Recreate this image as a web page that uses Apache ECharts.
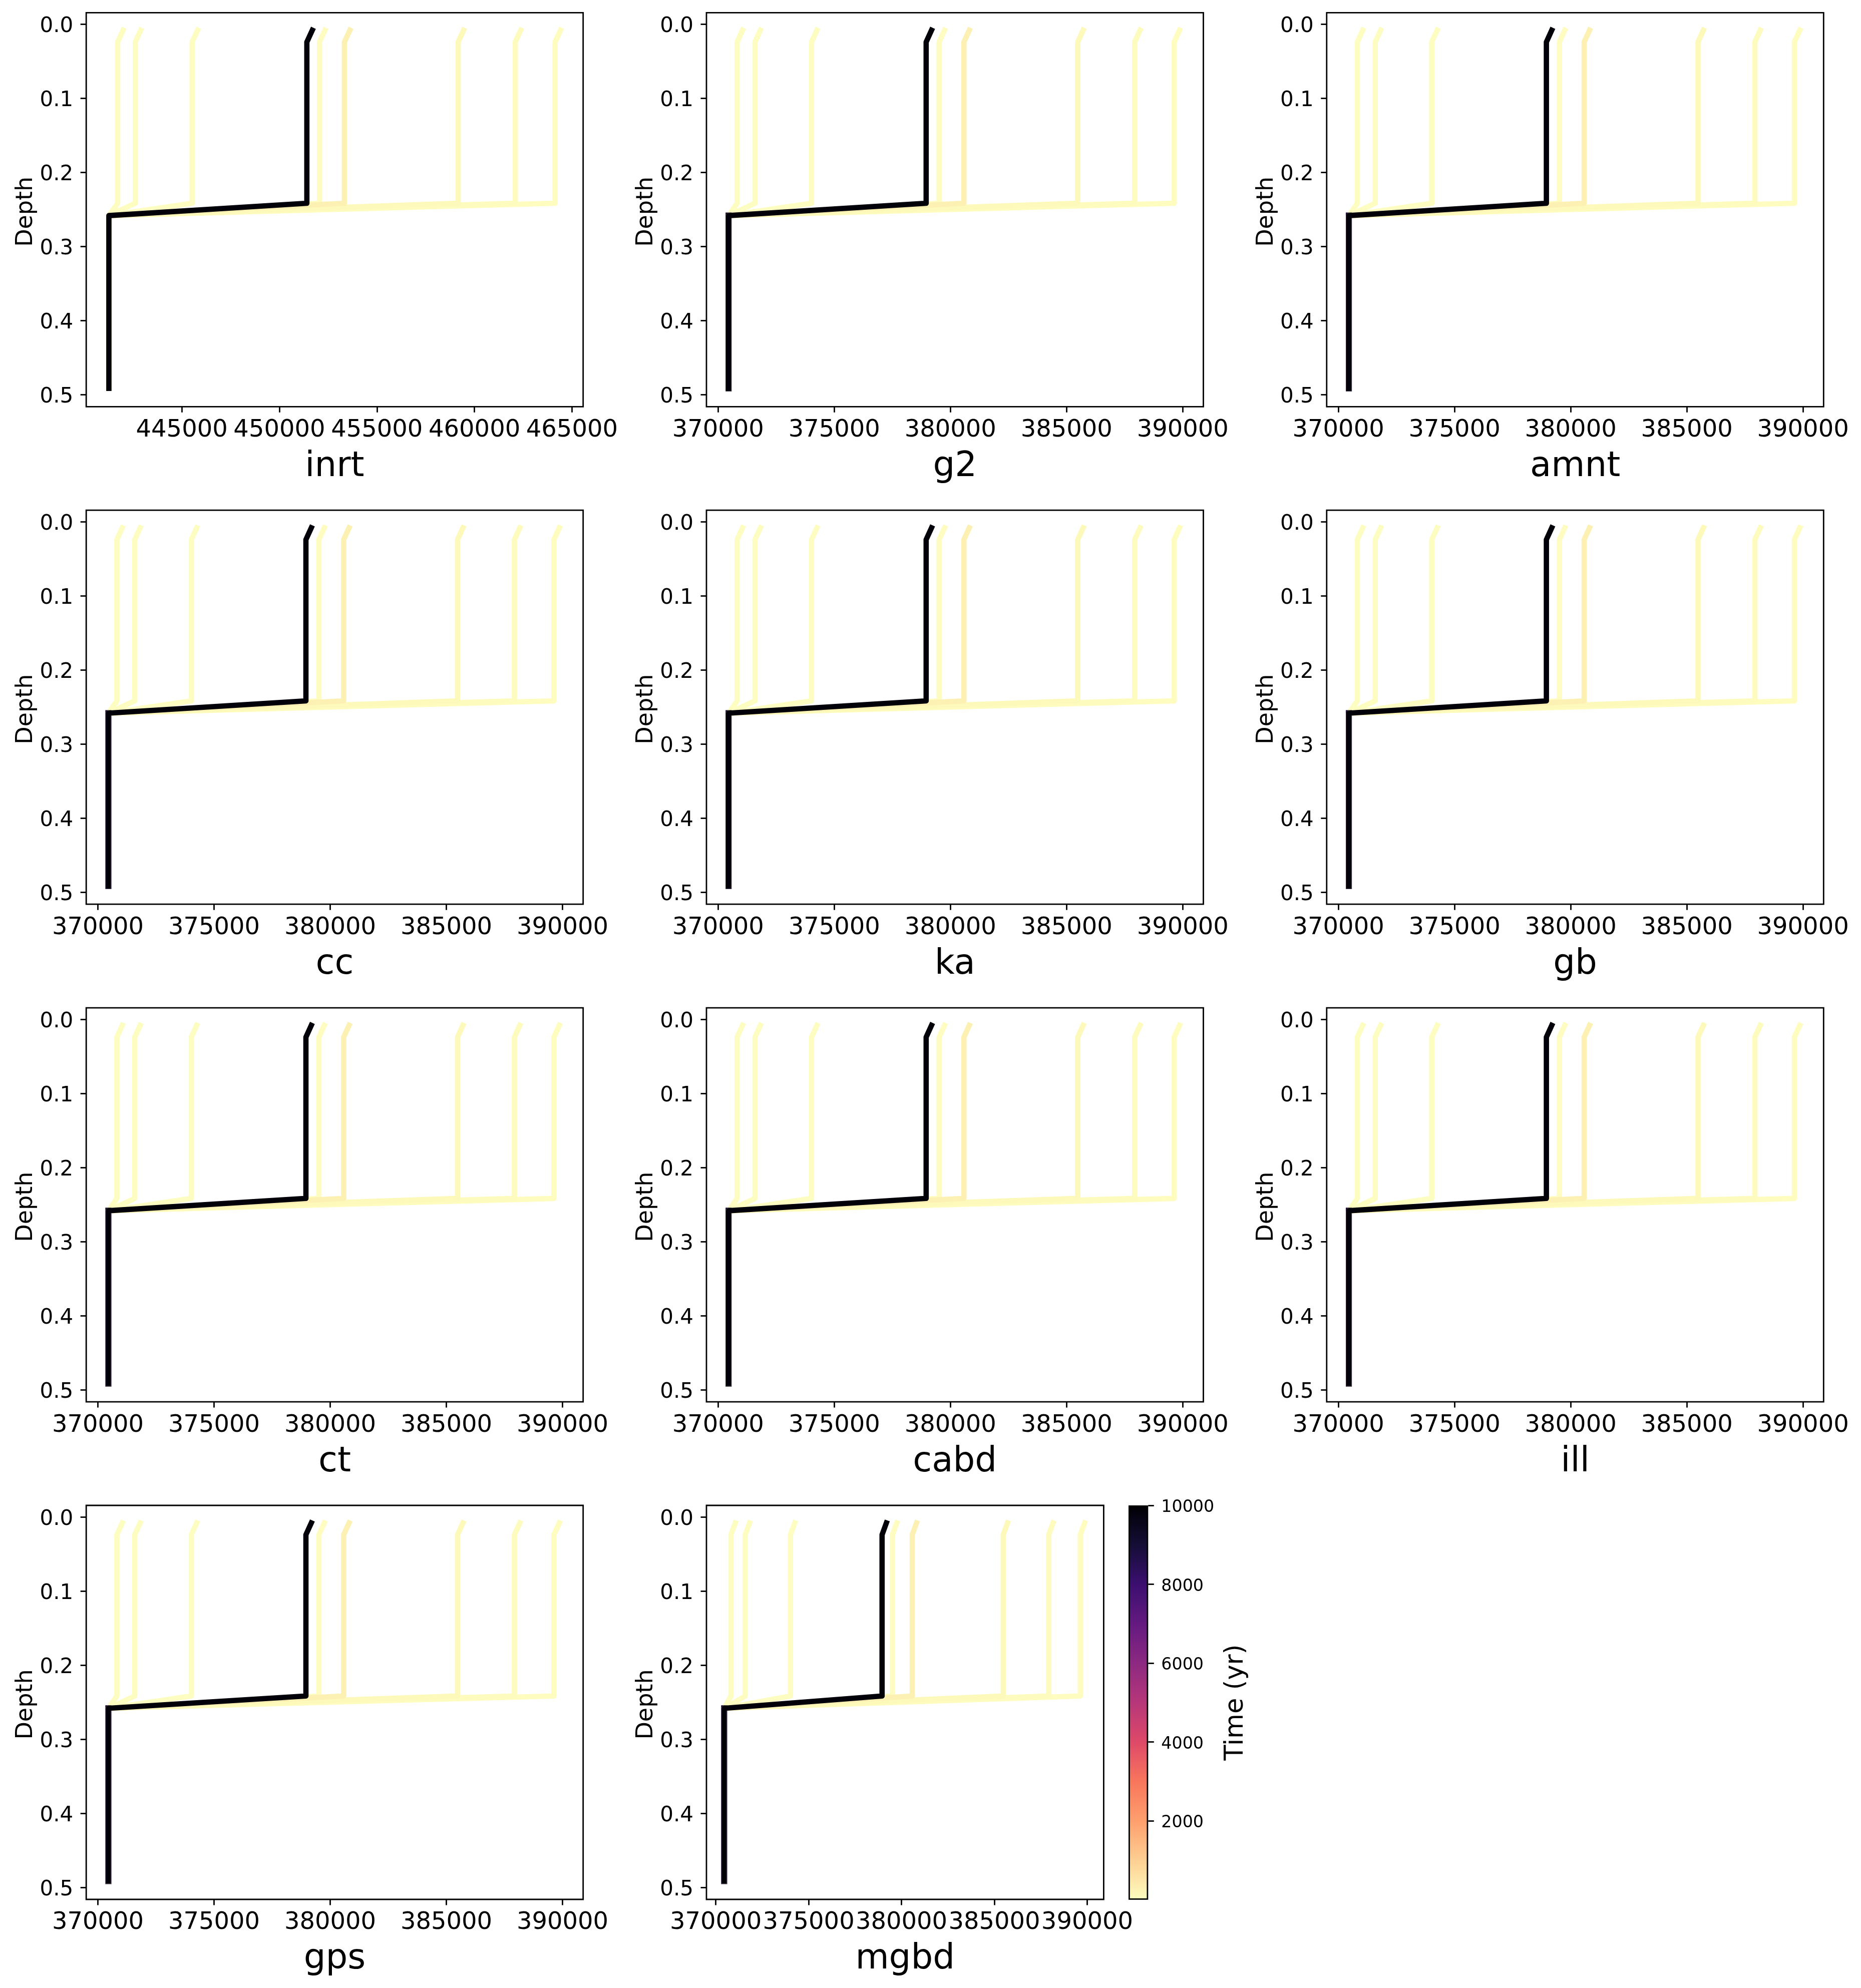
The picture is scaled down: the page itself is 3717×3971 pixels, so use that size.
<!DOCTYPE html>
<html><head><meta charset="utf-8">
<style>html,body{margin:0;padding:0;background:#fff}#c{width:3717px;height:3971px}</style>
<script src="https://cdn.jsdelivr.net/npm/echarts@6/dist/echarts.min.js"></script>
</head><body><div id="c"></div>
<script>
// ---- data ----
const panelNames = ['inrt','g2','amnt','cc','ka','gb','ct','cabd','ill','gps','mgbd'];
const depthKnots = [0.0081, 0.0241, 0.2417, 0.2583, 0.4915];
const depthTicks = [0, 0.1, 0.2, 0.3, 0.4, 0.5];
const inrtTicks = [445000, 450000, 455000, 460000, 465000];
const otherTicks = [370000, 375000, 380000, 385000, 390000];
const inrtRange = [440099, 465572];
const otherRange = [369498, 390888];
const depthRange = [-0.01554, 0.5162];
// upper layer value of each time step, drawing order = back to front
const inrtUpper  = [441710, 442614, 445529, 464134, 462093, 452059, 459165, 453335, 451409];
const otherUpper = [370819, 371588, 374022, 389631, 387931, 379515, 385482, 380581, 378955];
const inrtTopShift = 280;
const otherTopShift = 232;
const inrtDeep = 441261;
const otherDeep = 370452;
const stepColors = ['#fdfdc2','#fdfdc2','#fdfdc2','#fefcbf','#fdfcbe','#fefcc0','#fdf9ba','#fcf1b3','#020109'];
const fringeColor = '#1b0c2f';
const barTicks = [2000, 4000, 6000, 8000, 10000];
const barMin = 10, barMax = 10000;
const magmaStops = ['#000004','#140e36','#3b0f70','#641a80','#8c2981','#b73779','#de4968','#f8765c','#fe9f6d','#fecf92','#fcfdbf'];

// ---- layout ----
const colX = [172.2, 1411, 2649.8], rowY = [25.3, 1019.2, 2013.1, 3007];
const W = 992.5, H = 787, FW = 3717, FH = 3971;
const font = '"DejaVu Sans"';
const tickStyle = {show:true, length:11.5, lineStyle:{color:'#000', width:2.8}};

const grids=[], xAxes=[], yAxes=[], series=[];
panelNames.forEach((name,i)=>{
  const col = i%3, row = Math.floor(i/3);
  const isInrt = name==='inrt', narrow = name==='mgbd';
  const width = narrow ? 793.4 : W;
  grids.push({left:colX[col], top:rowY[row], width, height:H, show:true, backgroundColor:'#fff',
              borderColor:'#000', borderWidth:2.8, containLabel:false});
  const ticks = isInrt?inrtTicks:otherTicks, range = isInrt?inrtRange:otherRange;
  xAxes.push({type:'value', gridIndex:i, position:'bottom', min:range[0], max:range[1], scale:true,
    name, nameLocation:'middle', nameGap:86,
    nameTextStyle:{fontFamily:font, fontSize:69, color:'#000'},
    axisLine:{show:false, onZero:false}, splitLine:{show:false}, minorTick:{show:false},
    axisTick:Object.assign({customValues:ticks},tickStyle),
    axisLabel:{customValues:ticks, hideOverlap:false, formatter:v=>String(Math.round(v)), margin:23, fontFamily:font, fontSize:48, color:'#000'}});
  yAxes.push({type:'value', gridIndex:i, position:'left', inverse:true, min:depthRange[0], max:depthRange[1],
    name:'Depth', nameLocation:'middle', nameGap:95,
    nameTextStyle:{fontFamily:font, fontSize:46, color:'#000', padding:[0,8,0,0]},
    axisLine:{show:false, onZero:false}, splitLine:{show:false},
    axisTick:Object.assign({customValues:depthTicks},tickStyle),
    axisLabel:{customValues:depthTicks, hideOverlap:false, formatter:v=>v.toFixed(1), margin:26, verticalAlign:'top', lineHeight:10, fontFamily:font, fontSize:42, color:'#000'}});
  const upper = isInrt?inrtUpper:otherUpper;
  const shift = isInrt?inrtTopShift:otherTopShift, deep = isInrt?inrtDeep:otherDeep;
  if(!isInrt){
    series.push({type:'line', xAxisIndex:i, yAxisIndex:i, symbol:'none', showSymbol:false, animation:false, silent:true, z:9,
      lineStyle:{color:fringeColor, width:12.2, cap:'square'},
      data:[[deep,depthKnots[3]],[deep,depthKnots[4]]]});
  }
  upper.forEach((u,k)=>{
    const xs=[u+shift,u,u,deep,deep];
    series.push({type:'line', xAxisIndex:i, yAxisIndex:i, symbol:'none', showSymbol:false, animation:false,
      silent:true, z:2+k,
      lineStyle:{color:stepColors[k], width:10.6, cap:'square', join:'round'},
      data:xs.map((x,j)=>[x,depthKnots[j]])});
  });
});

// colour bar
const cbi = panelNames.length;
grids.push({left:2254, top:3007, width:39.3, height:787});
xAxes.push({type:'category', gridIndex:cbi, data:['Time'], show:false});
yAxes.push({type:'value', gridIndex:cbi, position:'right', min:barMin, max:barMax,
  name:'Time (yr)', nameLocation:'middle', nameGap:150, nameRotate:90,
  nameTextStyle:{fontFamily:font, fontSize:51, color:'#000'},
  axisLine:{show:false}, splitLine:{show:false},
  axisTick:Object.assign({customValues:barTicks},tickStyle),
  axisLabel:{customValues:barTicks, hideOverlap:false, formatter:v=>String(v), margin:26, verticalAlign:'top', lineHeight:9, fontFamily:font, fontSize:33.3, color:'#000'}});
series.push({type:'bar', xAxisIndex:cbi, yAxisIndex:cbi, barWidth:'100%', clip:false, animation:false, silent:true,
  data:[barMax],
  itemStyle:{borderColor:'#000', borderWidth:2.8,
    color:{type:'linear',x:0,y:0,x2:0,y2:1,colorStops:magmaStops.map((c,i)=>({offset:i/(magmaStops.length-1),color:c}))}}});

const chart = echarts.init(document.getElementById('c'), null, {renderer:'canvas', width:FW, height:FH});
chart.setOption({backgroundColor:'#fff', animation:false, grid:grids, xAxis:xAxes, yAxis:yAxes, series});
</script></body></html>
